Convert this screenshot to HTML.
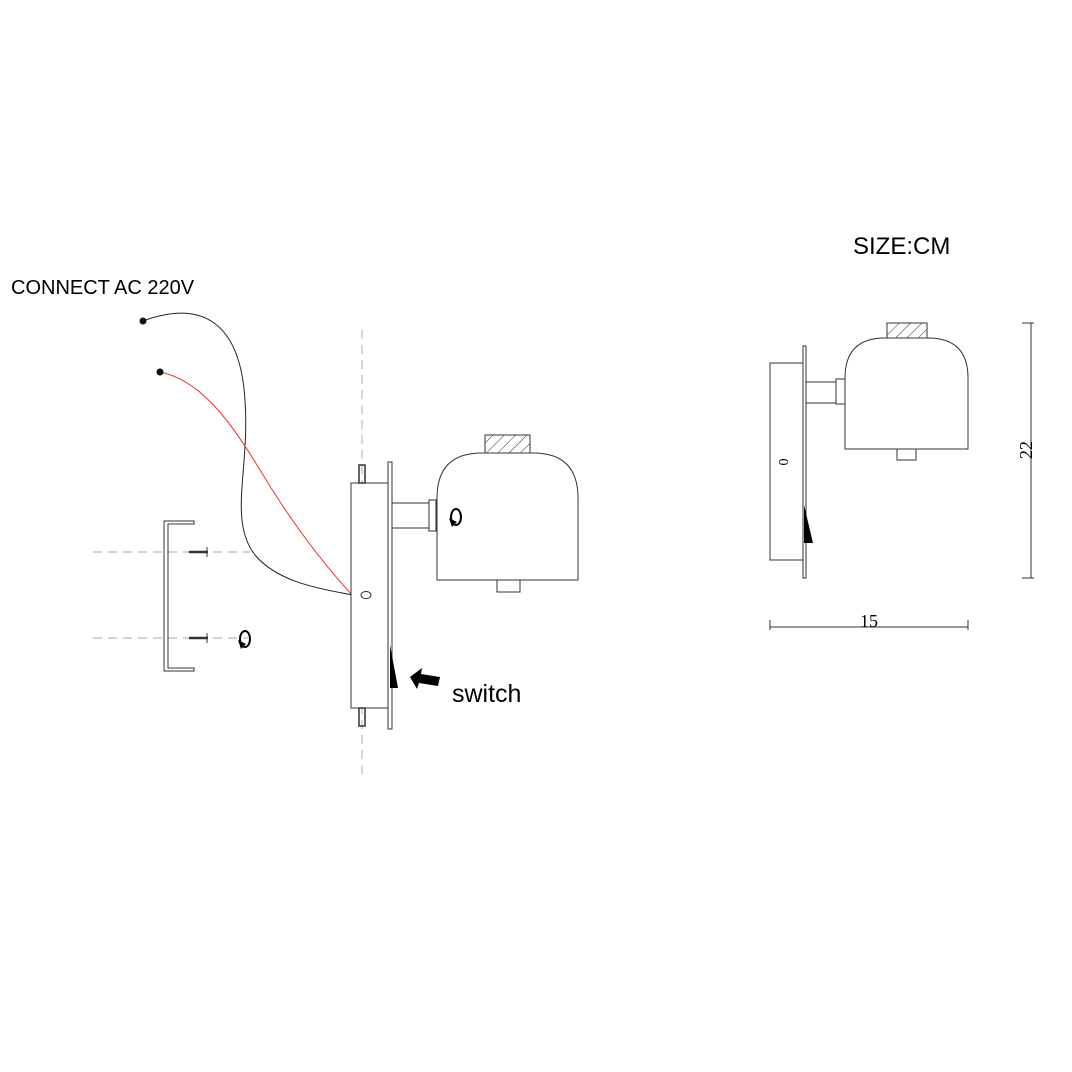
<!DOCTYPE html>
<html><head><meta charset="utf-8"><style>body{margin:0;background:#fff}svg{display:block}</style></head><body>
<svg width="1072" height="1072" viewBox="0 0 1072 1072" xmlns="http://www.w3.org/2000/svg">
<defs><pattern id="h" width="8" height="8" patternUnits="userSpaceOnUse" patternTransform="rotate(45)"><line x1="0" y1="0" x2="0" y2="8" stroke="#333" stroke-width="1"/></pattern></defs>
<rect width="1072" height="1072" fill="#fff"/>
<text x="11" y="294" font-family="Liberation Sans, sans-serif" font-size="20">CONNECT AC 220V</text>
<text x="853" y="254" font-family="Liberation Sans, sans-serif" font-size="24">SIZE:CM</text>
<g fill="none" stroke="#bbb" stroke-width="1.2" stroke-dasharray="9,6">
<line x1="93" y1="552" x2="250" y2="552"/><line x1="93" y1="638" x2="250" y2="638"/>
<line x1="362" y1="330" x2="362" y2="778"/></g>
<g fill="none" stroke="#333" stroke-width="1">
<path d="M164,521 H194 V524 H168 V668 H194 V671 H164 Z"/>
<line x1="189" y1="552" x2="208" y2="552" stroke-width="2.5"/><line x1="207" y1="547" x2="207" y2="557"/>
<line x1="189" y1="638" x2="208" y2="638" stroke-width="2.5"/><line x1="207" y1="633" x2="207" y2="643"/>
<path d="M143,321 C200,300 240,320 245,400 C250,470 228,520 255,555 C280,585 330,590 352,595" stroke="#222"/>
<path d="M160,372 C200,380 230,420 260,470 C290,520 320,560 352,595" stroke="#e33"/>
<rect x="351" y="483" width="37" height="225" fill="#fff"/>
<rect x="388" y="462" width="4" height="267" fill="#fff"/>
<rect x="359" y="465" width="6" height="18" stroke-width="1.5"/>
<rect x="359" y="708" width="6" height="18" stroke-width="1.5"/>
<ellipse cx="366" cy="595" rx="5" ry="3.5"/>
<rect x="392" y="503" width="37" height="25"/>
<rect x="429" y="500" width="7" height="31"/>
<path d="M437,580 V498 Q437,453 482,453 H533 Q578,453 578,498 V580 Z" fill="#fff"/>
<rect x="485" y="435" width="45" height="18" fill="url(#h)"/>
<rect x="497" y="580" width="23" height="12"/>
<rect x="770" y="363" width="33" height="197"/>
<rect x="803" y="346" width="3" height="232"/>
<rect x="806" y="382" width="30" height="21"/>
<rect x="836" y="379" width="9" height="25"/>
<path d="M845,449 V378 Q845,338 885,338 H928 Q968,338 968,378 V449 Z" fill="#fff"/>
<rect x="887" y="323" width="40" height="15" fill="url(#h)"/>
<rect x="897" y="449" width="19" height="11"/>
<line x1="1031" y1="323" x2="1031" y2="578"/><line x1="1022" y1="323" x2="1034" y2="323"/><line x1="1022" y1="578" x2="1034" y2="578"/>
<line x1="770" y1="627" x2="968" y2="627"/><line x1="770" y1="620" x2="770" y2="630"/><line x1="968" y1="620" x2="968" y2="630"/>
</g>
<circle cx="143" cy="321" r="3.5" fill="#111"/><circle cx="160" cy="372" r="3.5" fill="#111"/>
<polygon points="390,645 398,688 390,688" fill="#000"/>
<polygon points="804,505 813,543 804,543" fill="#000"/>
<polygon points="410,677 422,668 421,674 440,677 438,686 419,683 417,689" fill="#000"/>
<text x="452" y="702" font-family="Liberation Sans, sans-serif" font-size="25">switch</text>
<g fill="none" stroke="#000" stroke-width="2"><ellipse cx="456" cy="517" rx="5" ry="8"/><ellipse cx="245" cy="639" rx="5" ry="8"/></g>
<polygon points="449,518 457,522 452,527" fill="#000"/><polygon points="238,640 246,644 241,649" fill="#000"/>
<text x="869" y="627" font-family="Liberation Serif, serif" font-size="18" text-anchor="middle">15</text>
<text transform="translate(1032,450) rotate(-90)" font-family="Liberation Serif, serif" font-size="18" text-anchor="middle">22</text>
<text transform="translate(788,462) rotate(-90)" font-family="Liberation Serif, serif" font-size="14" text-anchor="middle">0</text>
</svg>
</body></html>
